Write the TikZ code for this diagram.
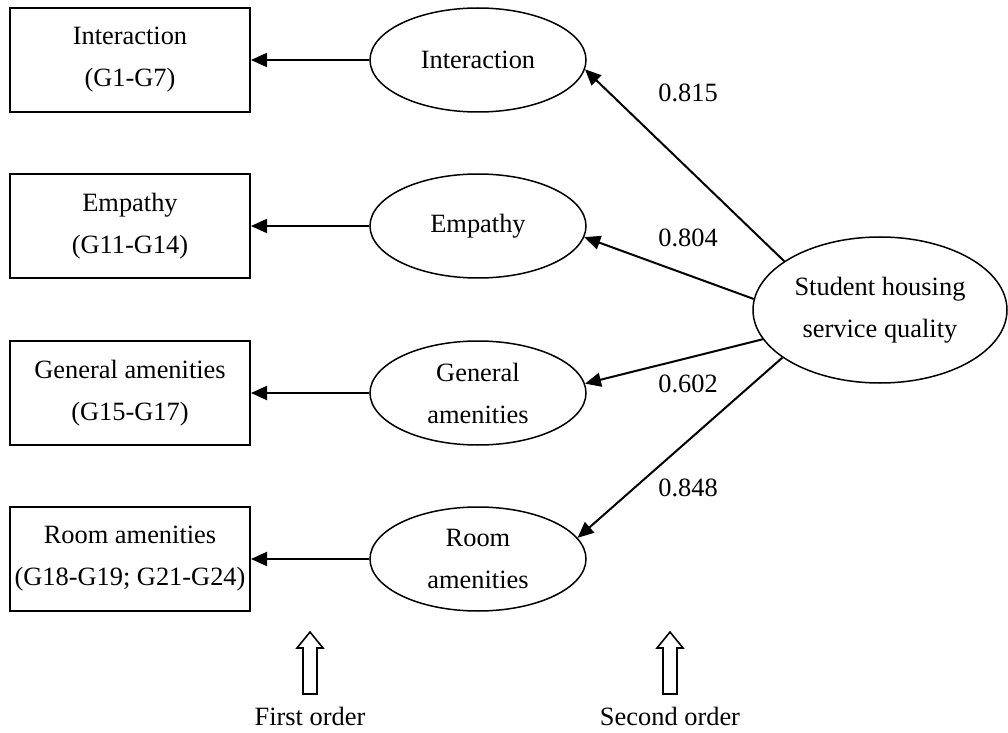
\documentclass[tikz,border=0pt]{standalone}
\usepackage{fontspec}
\setmainfont{Liberation Serif}
\usepackage{tikz}
\usetikzlibrary{shapes.geometric, arrows.meta, positioning, calc}
\tikzset{
    itembox/.style={rectangle, draw=black, line width=1pt, minimum width=120pt, minimum height=52pt, inner sep=1pt, align=center, text centered},
    factor/.style={ellipse, draw=black, line width=0.75pt, minimum width=108pt, minimum height=52pt, inner sep=0pt, align=center},
    second/.style={ellipse, draw=black, line width=0.75pt, minimum width=127pt, minimum height=73pt, inner sep=0pt, align=center},
    arrow/.style={line width=1pt, -{Triangle[length=8pt, width=7pt]}},
    hollow/.style={draw=black, line width=0.8pt, fill=white, line join=miter}
}

\begin{document}
\begin{tikzpicture}[x=0.5pt, y=-0.5pt, font=\fontsize{13.2}{21}\selectfont]
        \useasboundingbox (0,0) rectangle (1008,733);

        % Indicator boxes
        \node (boxint) [itembox] at (130,60) {Interaction\\(G1-G7)};
        \node (boxemp) [itembox] at (130,226) {Empathy\\(G11-G14)};
        \node (boxgen) [itembox] at (130,393) {General amenities\\(G15-G17)};
        \node (boxroom) [itembox] at (130,559) {Room amenities\\(G18-G19; G21-G24)};

        % First order factors
        \node (int) [factor] at (478,60) {Interaction};
        \node (emp) [factor] at (478,226) {Empathy};
        \node (gen) [factor] at (478,393) {General\\amenities};
        \node (room) [factor] at (478,559) {Room\\amenities};

        % Second order factor
        \node (shsq) [second] at (880,310) {Student housing\\service quality};

        % First order to indicators
        \draw[arrow] (int.west) -- (boxint.east);
        \draw[arrow] (emp.west) -- (boxemp.east);
        \draw[arrow] (gen.west) -- (boxgen.east);
        \draw[arrow] (room.west) -- (boxroom.east);

        % Loadings
        \draw[arrow] (shsq.153) -- (int.-5);
        \draw[arrow] (shsq.175) -- (emp.-6);
        \draw[arrow] (shsq.-166) -- (gen.5);
        \draw[arrow] (shsq.-154) -- (room.12);

        \node (l1) at (688,93) {0.815};
        \node (l2) at (688,238) {0.804};
        \node (l3) at (688,384) {0.602};
        \node (l4) at (688,488) {0.848};

        % Order labels
        \node (first) at (310,716) {First order};
        \node (secnd) at (670,716) {Second order};
        \draw[hollow] (303,694) -- (303,648) -- (297,648) -- (310,632) -- (323,648) -- (317,648) -- (317,694) -- cycle;
        \draw[hollow] (663,694) -- (663,648) -- (657,648) -- (670,632) -- (683,648) -- (677,648) -- (677,694) -- cycle;
    \end{tikzpicture}
\end{document}
